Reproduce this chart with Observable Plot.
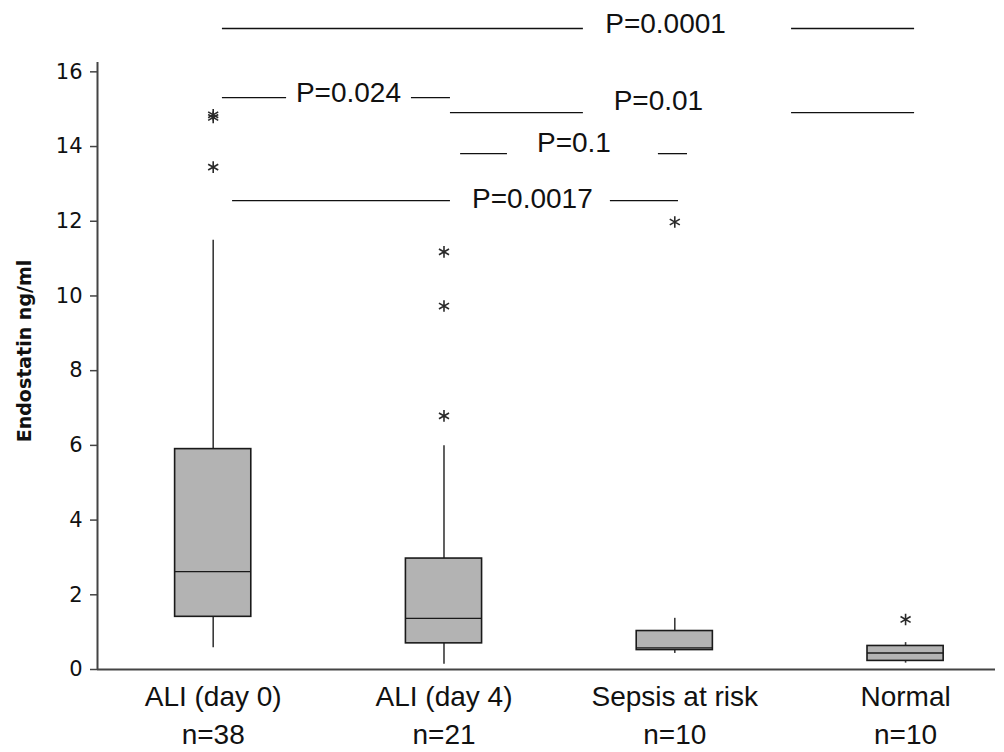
<!DOCTYPE html>
<html>
<head>
<meta charset="utf-8">
<script src="https://cdn.jsdelivr.net/npm/d3@7"></script>
<script src="https://cdn.jsdelivr.net/npm/@observablehq/plot@0.6"></script>
<style>
  html, body { margin: 0; padding: 0; background: #fff; }
</style>
</head>
<body>
<div id="chart"></div>
<script>
// ---- data ----
const groups = ["ALI (day 0)", "ALI (day 4)", "Sepsis at risk", "Normal"];
const counts = ["n=38", "n=21", "n=10", "n=10"];
const whiskerLow = [0.58, 0.14, 0.43, 0.17];
const q1 = [1.41, 0.70, 0.52, 0.23];
const median = [2.62, 1.37, 0.58, 0.44];
const q3 = [5.90, 2.97, 1.03, 0.63];
const whiskerHigh = [11.49, 5.99, 1.37, 0.72];

const outlierGroup = [1, 1, 1, 2, 2, 2, 3, 4];
const outlierValue = [14.85, 14.78, 13.45, 11.18, 9.73, 6.79, 11.98, 1.34];

const yTicks = [0, 2, 4, 6, 8, 10, 12, 14, 16];
const yLabel = "Endostatin ng/ml";

// comparison brackets (x in group units, y in ng/ml)
const pLabels = ["P=0.0001", "P=0.024", "P=0.01", "P=0.1", "P=0.0017"];
const pTextX = [2.960, 1.586, 2.929, 2.563, 2.383];
const pTextY = [17.29, 15.43, 15.22, 14.09, 12.60];
const pLineY = [17.16, 15.31, 14.91, 13.81, 12.55];
const pLeftFrom = [1.040, 1.040, 2.028, 2.072, 1.084];
const pLeftTo = [2.604, 1.318, 2.604, 2.275, 2.028];
const pRightFrom = [3.506, 1.859, 3.506, 2.929, 2.721];
const pRightTo = [4.039, 2.028, 4.039, 3.055, 3.016];

// ---- derived tables ----
const boxes = groups.map((g, i) => ({
  pos: i + 1, name: g, n: counts[i],
  lo: whiskerLow[i], q1: q1[i], med: median[i], q3: q3[i], hi: whiskerHigh[i]
}));
const outliers = outlierValue.map((v, i) => ({pos: outlierGroup[i], v}));
const segs = [];
pLabels.forEach((p, i) => {
  segs.push({x1: pLeftFrom[i], x2: pLeftTo[i], y: pLineY[i]});
  segs.push({x1: pRightFrom[i], x2: pRightTo[i], y: pLineY[i]});
});
const pTexts = pLabels.map((p, i) => ({label: p, x: pTextX[i], y: pTextY[i]}));

const half = 0.165;
const xDomain = [0.4987, 4.3896];
const sansFont = "'Liberation Sans', Arial, sans-serif";
const verdanaLike = "'DejaVu Sans', Verdana, sans-serif";

const chart = Plot.plot({
  width: 1004,
  height: 752,
  marginLeft: 97,
  marginRight: 9,
  marginTop: 62,
  marginBottom: 83,
  style: {fontFamily: verdanaLike, fontSize: "21px", background: "#fff", color: "#111"},
  x: {domain: xDomain, axis: null},
  y: {domain: [0, 16.25], axis: null},
  marks: [
    // whiskers
    Plot.ruleX(boxes, {x: "pos", y1: "lo", y2: "q1", stroke: "#3a3a3a", strokeWidth: 1.6}),
    Plot.ruleX(boxes, {x: "pos", y1: "q3", y2: "hi", stroke: "#3a3a3a", strokeWidth: 1.6}),
    // boxes
    Plot.rect(boxes, {x1: d => d.pos - half, x2: d => d.pos + half, y1: "q1", y2: "q3", fill: "#b3b3b3", stroke: "#1a1a1a", strokeWidth: 1.6}),
    // medians
    Plot.ruleY(boxes, {x1: d => d.pos - half, x2: d => d.pos + half, y: "med", stroke: "#1a1a1a", strokeWidth: 1.4}),
    // outliers
    Plot.dot(outliers, {x: "pos", y: "v", symbol: "asterisk", r: 5.5, stroke: "#2a2a2a", strokeWidth: 1.6}),
    // axes lines
    Plot.ruleX([xDomain[0]], {stroke: "#444", strokeWidth: 2}),
    Plot.ruleY([0], {stroke: "#444", strokeWidth: 2}),
    Plot.axisY({ticks: yTicks, tickSize: 7, tickPadding: 8, stroke: "#444", strokeWidth: 1.5, label: null,
                tickFormat: d => String(d), fontSize: 21, fontFamily: verdanaLike, fill: "#111"}),
    // y label
    Plot.text([yLabel], {frameAnchor: "left", rotate: -90, textAnchor: "middle", dx: -73, dy: -15,
                         fontFamily: verdanaLike, fontWeight: "bold", fontSize: 19, fill: "#111"}),
    // category labels
    Plot.text(boxes, {x: "pos", y: () => 0, text: "name", lineAnchor: "bottom", dy: 36, fontFamily: sansFont, fontSize: 28, fill: "#111"}),
    Plot.text(boxes, {x: "pos", y: () => 0, text: "n", lineAnchor: "bottom", dy: 74, fontFamily: sansFont, fontSize: 28, fill: "#111"}),
    // comparison brackets
    Plot.ruleY(segs, {x1: "x1", x2: "x2", y: "y", stroke: "#111", strokeWidth: 1.3}),
    Plot.text(pTexts, {x: "x", y: "y", text: "label", lineAnchor: "middle", fontFamily: sansFont, fontSize: 28, fill: "#111"})
  ]
});
document.getElementById("chart").appendChild(chart);
</script>
</body>
</html>
